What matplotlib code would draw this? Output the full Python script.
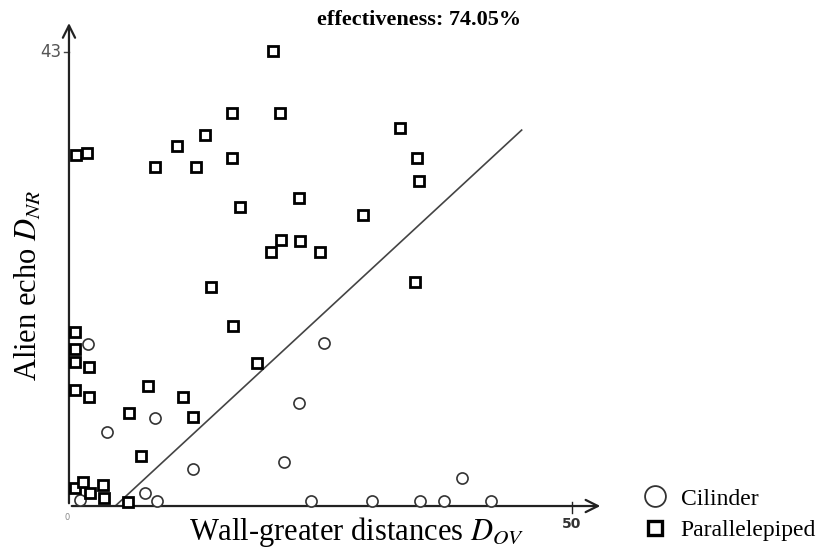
import matplotlib.pyplot as plt
import numpy as np

plt.rcParams['font.family'] = 'Liberation Serif'
plt.rcParams['mathtext.fontset'] = 'stix'

# parallelepiped points (D_OV, D_NR)
para_x = [20.3, 21.0, 16.2, 13.5, 10.7, 8.6, 12.6, 16.2, 32.9, 34.6, 34.8, 0.7, 1.8,
          17.0, 22.9, 29.2, 21.1, 23.0, 20.1, 25.0, 34.4, 14.1, 16.3, 18.7, 7.9, 11.3,
          6.0, 12.3, 7.2, 0.6, 0.6, 0.6, 0.6, 2.0, 2.0, 0.6, 1.4, 2.1, 3.4, 3.5, 5.9]
para_y = [43.1, 37.2, 37.2, 35.1, 34.1, 32.1, 32.1, 33.0, 35.8, 33.0, 30.8, 33.2, 33.4,
          28.3, 29.2, 27.6, 25.2, 25.1, 24.1, 24.1, 21.2, 20.7, 17.0, 13.5, 11.4, 10.3,
          8.8, 8.4, 4.7, 16.5, 14.9, 13.6, 11.0, 13.2, 10.3, 1.7, 2.3, 1.2, 2.0, 0.8, 0.4]

# cylinder points
cyl_x = [1.1, 1.9, 3.8, 7.6, 8.8, 8.6, 12.3, 22.9, 25.4, 21.4, 24.1, 30.1, 34.9, 37.3, 39.1, 42.0]
cyl_y = [0.6, 15.3, 7.0, 1.2, 0.5, 8.3, 3.5, 9.8, 15.4, 4.2, 0.5, 0.5, 0.5, 0.5, 2.7, 0.5]

# separating line
line_x = [4.6, 45.0]
line_y = [0.0, 35.6]

fig = plt.figure(figsize=(8.32, 5.52), dpi=100)
ax = fig.add_axes([0.0829, 0.0833, 0.642, 0.880])
xmax, ymax = 53.1, 46.0
ax.set_xlim(0, xmax)
ax.set_ylim(0, ymax)
for s in ax.spines.values():
    s.set_visible(False)
ax.set_xticks([])
ax.set_yticks([])

# axes with arrows
ax.annotate('', xy=(xmax, 0), xytext=(0, 0),
            arrowprops=dict(arrowstyle='->', lw=1.6, color='#222222', mutation_scale=22),
            annotation_clip=False)
ax.annotate('', xy=(0, ymax), xytext=(0, 0),
            arrowprops=dict(arrowstyle='->', lw=1.6, color='#222222', mutation_scale=22),
            annotation_clip=False)

# ticks
ax.plot([-0.5, 0], [43, 43], color='#444444', lw=1, clip_on=False)
ax.text(-0.8, 43, '43', ha='right', va='center', fontsize=12,
        family='DejaVu Sans', color='#555555')
ax.plot([50, 50], [-0.7, 0.4], color='#222222', lw=1, clip_on=False)
ax.text(50, -1.0, '50', ha='center', va='top', fontsize=10, fontweight='bold',
        family='DejaVu Sans', color='#333333')
ax.text(-0.2, -0.7, '0', ha='center', va='top', fontsize=6,
        family='DejaVu Sans', color='#888888')

ax.plot(line_x, line_y, color='#444444', lw=1.2, zorder=2)

ax.plot(cyl_x, cyl_y, 'o', ms=8, mfc='white', mec='#333333', mew=1.2,
        clip_on=False, zorder=3)
ax.plot(para_x, para_y, 's', ms=7.5, mfc='white', mec='black', mew=2,
        clip_on=False, zorder=4)

fig.text(419 / 832, 1 - 20 / 552, 'effectiveness: 74.05%', fontsize=16,
         fontweight='bold', ha='center', va='center')
ax.set_xlabel(r'Wall-greater distances $D_{OV}$', fontsize=22)
ax.xaxis.set_label_coords(0.539, -0.018)
ax.set_ylabel(r'Alien echo $D_{NR}$', fontsize=22)
ax.yaxis.set_label_coords(-0.048, 0.455)

h1, = ax.plot([], [], 'o', ms=15, mfc='white', mec='#333333', mew=1.3)
h2, = ax.plot([], [], 's', ms=9.5, mfc='white', mec='black', mew=2.4)
fig.legend([h1, h2], ['Cilinder', 'Parallelepiped'], loc='upper left',
           bbox_to_anchor=(643 / 832, 1 - 488 / 552), frameon=False, fontsize=17,
           handletextpad=0.6, labelspacing=0.42, borderaxespad=0, borderpad=0,
           handlelength=1.0)

fig.savefig('out.png', dpi=100)
